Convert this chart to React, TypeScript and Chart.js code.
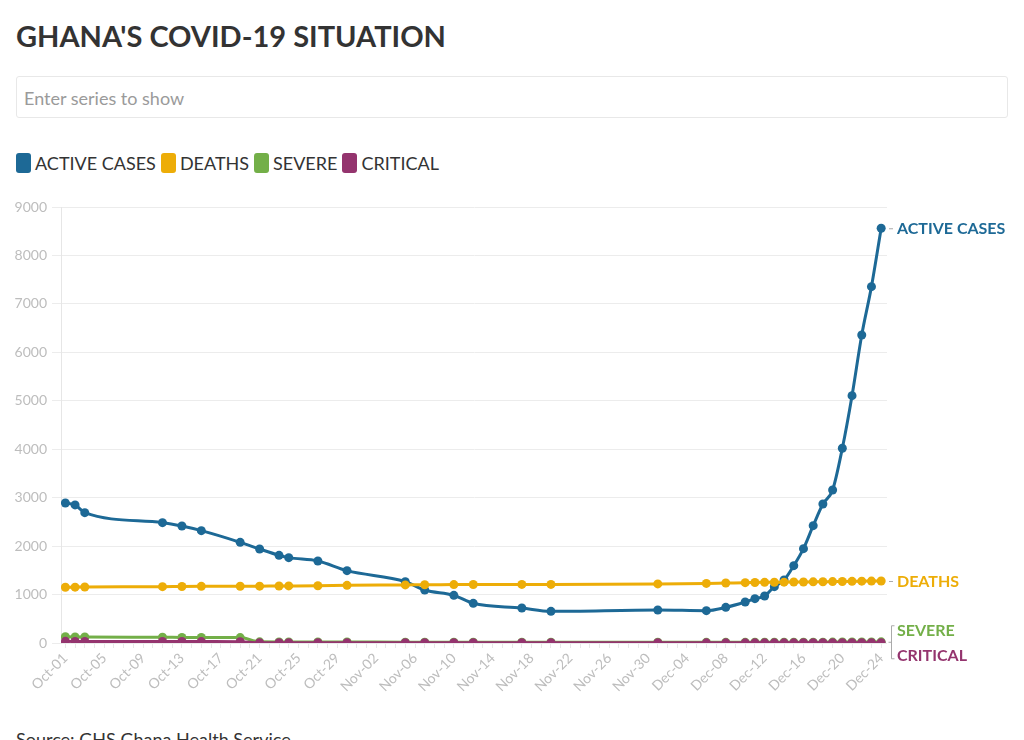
import React, { useEffect, useRef } from "react";
import { Chart, registerables } from "chart.js";

Chart.register(...registerables);

const dates = [
  "Oct-01", "Oct-02", "Oct-03", "Oct-11", "Oct-13", "Oct-15", "Oct-19", "Oct-21", "Oct-23", "Oct-24", "Oct-27", "Oct-30",
  "Nov-05", "Nov-07", "Nov-10", "Nov-12", "Nov-17", "Nov-20",
  "Dec-01", "Dec-06", "Dec-08", "Dec-10", "Dec-11", "Dec-12", "Dec-13", "Dec-14", "Dec-15", "Dec-16", "Dec-17",
  "Dec-18", "Dec-19", "Dec-20", "Dec-21", "Dec-22", "Dec-23", "Dec-24",
];

const activeCases = [
  2890, 2850, 2690, 2484, 2415, 2319, 2078, 1940, 1810, 1762, 1693, 1493,
  1266, 1094, 984, 819, 722, 653,
  681, 668, 736, 846, 915, 970, 1163, 1300, 1597, 1948, 2422,
  2870, 3159, 4019, 5106, 6358, 7356, 8561,
];

const deaths = [
  1151, 1153, 1155, 1163, 1167, 1170, 1172, 1174, 1177, 1178, 1182, 1190,
  1199, 1203, 1205, 1207, 1209, 1210,
  1220, 1230, 1238, 1245, 1250, 1252, 1254, 1256, 1258, 1260, 1262,
  1265, 1267, 1270, 1273, 1276, 1278, 1280,
];

const severe = [
  128, 126, 124, 118, 116, 114, 112, 24, 22, 22, 20, 20,
  18, 18, 17, 16, 16, 15,
  15, 14, 14, 14, 15, 15, 16, 16, 17, 17, 18,
  18, 19, 20, 21, 22, 23, 24,
];

const critical = [
  34, 33, 32, 30, 30, 29, 28, 6, 6, 5, 5, 5,
  5, 4, 4, 4, 4, 4,
  4, 3, 3, 3, 3, 3, 3, 3, 3, 4, 4,
  4, 4, 5, 5, 5, 6, 6,
];

const seriesNames = ["ACTIVE CASES", "DEATHS", "SEVERE", "CRITICAL"];
const seriesColors = ["#1D6996", "#EDAD08", "#73AF48", "#94346E"];
const yTicks = [0, 1000, 2000, 3000, 4000, 5000, 6000, 7000, 8000, 9000];

const monthNames = ["Oct", "Nov", "Dec"];
const monthOffsets = [0, 31, 61];

function dayIndex(label: string): number {
  const [m, d] = label.split("-");
  const mi = monthNames.indexOf(m);
  return monthOffsets[mi] + parseInt(d, 10) - 1;
}

function dayLabel(v: number): string {
  let mi = 0;
  for (let i = 0; i < monthOffsets.length; i++) if (v >= monthOffsets[i]) mi = i;
  const d = v - monthOffsets[mi] + 1;
  return monthNames[mi] + "-" + (d < 10 ? "0" + d : String(d));
}

const FONT = "Lato, 'Open Sans', sans-serif";

const endLabels = {
  id: "endLabels",
  afterDatasetsDraw(chart: any) {
    const ctx = chart.ctx;
    const area = chart.chartArea;
    const items = chart.data.datasets.map((ds: any, i: number) => {
      const meta = chart.getDatasetMeta(i);
      const pt = meta.data[meta.data.length - 1];
      return { label: ds.label, color: ds.borderColor, y: pt.y };
    });
    items.sort((a: any, b: any) => a.y - b.y);
    const gap = 25;
    const clusters: any[][] = [];
    items.forEach((it: any) => {
      const last = clusters[clusters.length - 1];
      if (last && it.y - last[last.length - 1].y < gap) last.push(it);
      else clusters.push([it]);
    });
    ctx.save();
    ctx.font = "bold 16px " + FONT;
    ctx.textBaseline = "middle";
    ctx.textAlign = "left";
    clusters.forEach((cl) => {
      const mean = cl.reduce((s: number, c: any) => s + c.y, 0) / cl.length;
      const start = mean - ((cl.length - 1) * gap) / 2;
      ctx.strokeStyle = "#aaaaaa";
      ctx.lineWidth = 1;
      if (cl.length === 1) {
        ctx.beginPath();
        ctx.moveTo(area.right + 2, cl[0].y + 0.5);
        ctx.lineTo(area.right + 6, cl[0].y + 0.5);
        ctx.stroke();
      } else {
        const top = start - 4;
        const bot = start + (cl.length - 1) * gap + 4;
        const bx = area.right + 4.5;
        ctx.beginPath();
        ctx.moveTo(bx + 3, top);
        ctx.lineTo(bx, top);
        ctx.lineTo(bx, bot);
        ctx.lineTo(bx + 3, bot);
        ctx.moveTo(bx - 3, mean);
        ctx.lineTo(bx, mean);
        ctx.stroke();
      }
      cl.forEach((c: any, k: number) => {
        ctx.fillStyle = c.color;
        ctx.fillText(c.label, area.right + 10, start + k * gap + 1);
      });
    });
    ctx.restore();
  },
};

export default function App() {
  const ref = useRef<HTMLCanvasElement | null>(null);

  useEffect(() => {
    if (!ref.current) return;
    const xs = dates.map(dayIndex);
    const series = [activeCases, deaths, severe, critical];
    const allDays: number[] = [];
    for (let d = 0; d <= dayIndex(dates[dates.length - 1]); d++) allDays.push(d);
    const chart = new Chart(ref.current, {
      type: "line",
      data: {
        datasets: series.map((vals, i) => ({
          label: seriesNames[i],
          data: vals.map((v, k) => ({ x: xs[k], y: v })),
          borderColor: seriesColors[i],
          backgroundColor: seriesColors[i],
          borderWidth: 3,
          pointRadius: 4.5,
          pointHoverRadius: 4.5,
          pointBorderWidth: 0,
          cubicInterpolationMode: "monotone" as const,
          order: 4 - i,
        })),
      },
      options: {
        animation: false,
        responsive: true,
        maintainAspectRatio: false,
        layout: { padding: { top: 17, right: 137, left: 0, bottom: 0 } },
        plugins: {
          legend: { display: false },
          tooltip: { enabled: false },
        },
        scales: {
          x: {
            type: "linear",
            min: -0.45,
            max: 84.6,
            afterBuildTicks: (scale: any) => {
              scale.ticks = allDays.map((v) => ({ value: v }));
            },
            afterFit: (scale: any) => {
              scale.height = 67;
            },
            grid: {
              drawOnChartArea: false,
              drawTicks: true,
              tickLength: 5,
              color: "#e8e8e8",
            },
            border: { display: false },
            ticks: {
              autoSkip: false,
              minRotation: 45,
              maxRotation: 45,
              padding: 2,
              color: "#bdbdbd",
              font: { family: FONT, size: 14 },
              callback: (v: any) => (Number(v) % 4 === 0 ? dayLabel(Number(v)) : ""),
            },
          },
          y: {
            min: 0,
            max: 9000,
            afterBuildTicks: (scale: any) => {
              scale.ticks = yTicks.map((v) => ({ value: v }));
            },
            afterFit: (scale: any) => {
              scale.width = 61;
            },
            grid: { color: "#ececec", tickLength: 9 },
            border: { display: true, color: "#e6e6e6" },
            ticks: {
              padding: 5,
              color: "#bdbdbd",
              font: { family: FONT, size: 14 },
              callback: (v: any) => String(v),
            },
          },
        },
      },
      plugins: [endLabels],
    });
    return () => chart.destroy();
  }, []);

  return (
    <div style={{ position: "absolute", left: 0, top: 0, width: 1024, height: 740, overflow: "hidden", fontFamily: FONT, background: "#fff" }}>
      <div style={{ position: "absolute", left: 16, top: 16, fontSize: 29, fontWeight: 700, color: "#333333", lineHeight: "40px", whiteSpace: "nowrap" }}>
        GHANA'S COVID-19 SITUATION
      </div>
      <div
        style={{
          position: "absolute",
          left: 16,
          top: 76,
          width: 990,
          height: 40,
          border: "1px solid #e8e8e8",
          borderRadius: 3,
          boxSizing: "content-box",
        }}
      >
        <span style={{ position: "absolute", left: 7, top: 10, fontSize: 18, color: "#9a9a9a", lineHeight: "22px" }}>Enter series to show</span>
      </div>
      <div style={{ position: "absolute", left: 16, top: 153, height: 20, display: "flex", alignItems: "center", whiteSpace: "nowrap" }}>
        {seriesNames.map((n, i) => (
          <span key={n} style={{ display: "inline-flex", alignItems: "center", marginRight: 5 }}>
            <span style={{ width: 15, height: 20, borderRadius: 3, background: seriesColors[i], display: "inline-block", marginRight: 4 }} />
            <span style={{ fontSize: 18, color: "#333333", lineHeight: "20px" }}>{n}</span>
          </span>
        ))}
      </div>
      <div style={{ position: "absolute", left: 0, top: 190, width: 1024, height: 520 }}>
        <canvas ref={ref} />
      </div>
      <div style={{ position: "absolute", left: 16, top: 728, fontSize: 18, color: "#333333", lineHeight: "22px", whiteSpace: "nowrap" }}>
        Source: GHS Ghana Health Service
      </div>
    </div>
  );
}
